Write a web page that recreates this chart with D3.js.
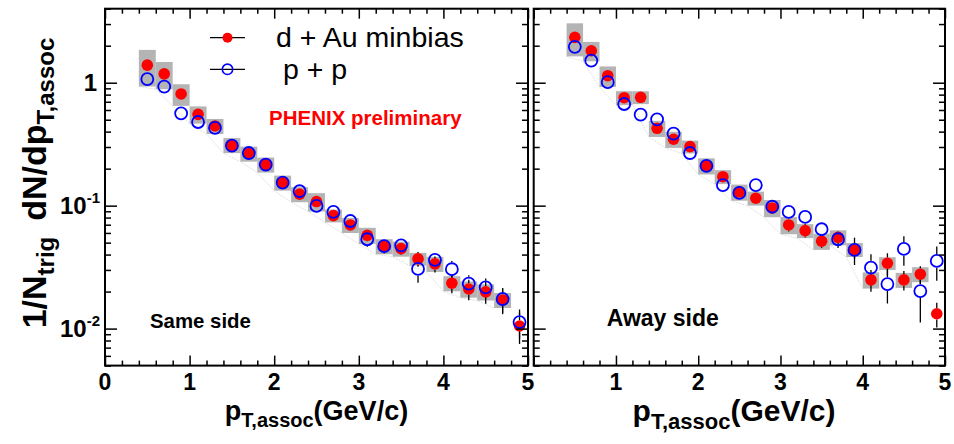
<!DOCTYPE html>
<html>
<head>
<meta charset="utf-8">
<script src="https://cdn.jsdelivr.net/npm/d3@7"></script>
<style>
  body { margin: 0; background: #fff; }
  svg { display: block; }
</style>
</head>
<body>
<svg id="chart" width="954" height="444"></svg>
<script>
// Associated-hadron yields per trigger vs pT,assoc (bin centres, GeV/c)
const ptAssoc = [0.5, 0.7, 0.9, 1.1, 1.3, 1.5, 1.7, 1.9, 2.1, 2.3, 2.5, 2.7,
                 2.9, 3.1, 3.3, 3.5, 3.7, 3.9, 4.1, 4.3, 4.5, 4.7, 4.9];

// Same side
const sameDAu = [1.39, 1.18, 0.81, 0.553, 0.445, 0.311, 0.265, 0.216, 0.154, 0.124, 0.108, 0.083,
                 0.0697, 0.0574, 0.0468, 0.0447, 0.0369, 0.0336, 0.0234, 0.021, 0.0199, 0.0171, 0.0105];
const samePP  = [1.07, 0.93, 0.564, 0.479, 0.43, 0.308, 0.268, 0.216, 0.154, 0.131, 0.0995, 0.0889,
                 0.075, 0.0533, 0.0468, 0.0476, 0.0306, 0.0362, 0.0304, 0.0232, 0.0216, 0.0174, 0.0113];
const sameDAuStat = [0.03, 0.025, 0.016, 0.011, 0.009, 0.006, 0.005, 0.004, 0.003, 0.003, 0.003, 0.003,
                     0.003, 0.006, 0.005, 0.005, 0.005, 0.005, 0.004, 0.004, 0.004, 0.004, 0.003];
const samePPStat  = [0.03, 0.025, 0.016, 0.012, 0.01, 0.007, 0.006, 0.005, 0.004, 0.004, 0.004, 0.004,
                     0.004, 0.007, 0.006, 0.006, 0.007, 0.005, 0.005, 0.004, 0.004, 0.004, 0.003];
// relative systematic uncertainty of d+Au (grey boxes)
const sameDAuSys = [0.33, 0.25, 0.2, 0.16, 0.14, 0.14, 0.14, 0.14, 0.14, 0.14, 0.17, 0.12,
                    0.14, 0.15, 0.14, 0.14, 0.12, 0.14, 0.14, 0.15, 0.15, 0.14, 0];

// Away side
const awayDAu = [2.34, 1.82, 1.14, 0.755, 0.761, 0.426, 0.347, 0.302, 0.211, 0.172, 0.129, 0.115,
                 0.0958, 0.0697, 0.0626, 0.0514, 0.0553, 0.0439, 0.0249, 0.034, 0.0249, 0.0277, 0.0132];
const awayPP  = [1.96, 1.51, 1.01, 0.671, 0.55, 0.504, 0.385, 0.268, 0.211, 0.147, 0.127, 0.147,
                 0.098, 0.0889, 0.081, 0.0643, 0.0533, 0.0436, 0.0313, 0.023, 0.0445, 0.0202, 0.0355];
const awayDAuStat = [0.08, 0.06, 0.04, 0.025, 0.025, 0.015, 0.012, 0.01, 0.008, 0.007, 0.006, 0.009,
                     0.008, 0.008, 0.0075, 0.006, 0.0066, 0.011, 0.005, 0.007, 0.0045, 0.0045, 0.003];
const awayPPStat  = [0.24, 0.1, 0.06, 0.035, 0.03, 0.025, 0.02, 0.015, 0.011, 0.009, 0.008, 0.012,
                     0.008, 0.009, 0.011, 0.009, 0.008, 0.0065, 0.009, 0.007, 0.012, 0.009, 0.011];
const awayDAuSys = [0.3, 0.18, 0.19, 0.13, 0.12, 0.15, 0.15, 0.12, 0.15, 0.13, 0.15, 0.13,
                    0.16, 0.16, 0.13, 0.15, 0.14, 0.13, 0.15, 0.12, 0.14, 0.14, 0];

// Axis ticks and labels
const xMajorTicks = [0, 1, 2, 3, 4, 5];
const yMajorTicks = [0.01, 0.1, 1];
const yTickLabels = [["10", "-2"], ["10", "-1"], ["1", ""]];
const legendLabels = ["d + Au minbias", "p + p"];
const panelLabels = ["Same side", "Away side"];
const prelimLabel = "PHENIX preliminary";

const FONT = "'Liberation Sans', Arial, Helvetica, sans-serif";
const RED = "#ff0000", BLUE = "#0000ff", GREY = "#b4b4b4";

const svg = d3.select("#chart");
const y = d3.scaleLog().domain([0.005, 4]).range([365.6, 8.7]);
const [yBottom, yTop] = y.range();

const isDecade = v => Math.abs(Math.log10(v) - Math.round(Math.log10(v))) < 1e-6;
const yMinorTicks = y.ticks().filter(v => !isDecade(v));

function drawPanel(p) {
  const x = d3.scaleLinear().domain([0, 5]).range(p.xRange);
  const [xL, xR] = p.xRange;
  const g = svg.append("g");
  const idx = ptAssoc.map((_, i) => i);
  const withSys = idx.filter(i => p.sys[i] > 0);

  // faint lower edge of the systematic band
  g.append("path")
    .attr("d", d3.line()
      .x(i => x(ptAssoc[i] - 0.1))
      .y(i => y(p.dAu[i] * (1 - p.sys[i])))(withSys))
    .attr("fill", "none").attr("stroke", "#d2d2d2")
    .attr("stroke-width", 0.7).attr("stroke-dasharray", "2,1");

  // systematic boxes
  g.selectAll("rect.sys").data(withSys).join("rect")
    .attr("class", "sys")
    .attr("x", i => x(ptAssoc[i] - 0.1))
    .attr("width", i => x(ptAssoc[i] + 0.1) - x(ptAssoc[i] - 0.1))
    .attr("y", i => y(p.dAu[i] * (1 + p.sys[i])))
    .attr("height", i => y(p.dAu[i] * (1 - p.sys[i])) - y(p.dAu[i] * (1 + p.sys[i])))
    .attr("fill", GREY);

  // statistical error bars, kept outside the marker
  function errSegments(vals, errs, r) {
    const segs = [];
    idx.forEach(i => {
      const cx = x(ptAssoc[i]), cy = y(vals[i]);
      const top = y(vals[i] + errs[i]);
      const lo = vals[i] - errs[i];
      const bot = lo > 0 ? Math.min(y(lo), yBottom) : yBottom;
      if (cy - r > top) segs.push([cx, top, cx, cy - r]);
      if (bot > cy + r) segs.push([cx, cy + r, cx, bot]);
    });
    return segs;
  }
  const segs = errSegments(p.dAu, p.dAuStat, 5.8).concat(errSegments(p.pp, p.ppStat, 6.8));
  g.selectAll("line.err").data(segs).join("line")
    .attr("x1", d => d[0]).attr("y1", d => d[1])
    .attr("x2", d => d[2]).attr("y2", d => d[3])
    .attr("stroke", "#000").attr("stroke-width", 1.3);

  // d+Au: filled red circles
  g.selectAll("circle.dau").data(idx).join("circle")
    .attr("cx", i => x(ptAssoc[i])).attr("cy", i => y(p.dAu[i]))
    .attr("r", 5.8).attr("fill", RED);

  // p+p: open blue circles
  g.selectAll("circle.pp").data(idx).join("circle")
    .attr("cx", i => x(ptAssoc[i])).attr("cy", i => y(p.pp[i]))
    .attr("r", 6).attr("fill", "none").attr("stroke", BLUE).attr("stroke-width", 1.8);

  // ticks on all four sides, pointing inward
  const xMinor = x.ticks(25).filter(v => Math.abs(v - Math.round(v)) > 1e-6);
  const tickStyle = sel => {
    sel.select(".domain").remove();
    sel.selectAll("line").attr("stroke", "#000").attr("stroke-width", 1.5);
    sel.selectAll("text").remove();
  };
  const ax = svg.append("g");
  ax.append("g").attr("transform", `translate(0,${yBottom})`)
    .call(d3.axisBottom(x).tickValues(xMajorTicks).tickSize(-10)).call(tickStyle);
  ax.append("g").attr("transform", `translate(0,${yBottom})`)
    .call(d3.axisBottom(x).tickValues(xMinor).tickSize(-5)).call(tickStyle);
  ax.append("g").attr("transform", `translate(0,${yTop})`)
    .call(d3.axisTop(x).tickValues(xMajorTicks).tickSize(-10)).call(tickStyle);
  ax.append("g").attr("transform", `translate(0,${yTop})`)
    .call(d3.axisTop(x).tickValues(xMinor).tickSize(-5)).call(tickStyle);
  ax.append("g").attr("transform", `translate(${xL},0)`)
    .call(d3.axisLeft(y).tickValues(yMajorTicks).tickSize(-12)).call(tickStyle);
  ax.append("g").attr("transform", `translate(${xL},0)`)
    .call(d3.axisLeft(y).tickValues(yMinorTicks).tickSize(-6)).call(tickStyle);
  ax.append("g").attr("transform", `translate(${xR},0)`)
    .call(d3.axisRight(y).tickValues(yMajorTicks).tickSize(-12)).call(tickStyle);
  ax.append("g").attr("transform", `translate(${xR},0)`)
    .call(d3.axisRight(y).tickValues(yMinorTicks).tickSize(-6)).call(tickStyle);

  // frame
  svg.append("rect")
    .attr("x", xL).attr("y", yTop).attr("width", xR - xL).attr("height", yBottom - yTop)
    .attr("fill", "none").attr("stroke", "#000").attr("stroke-width", 2);

  // x tick labels
  svg.append("g").selectAll("text").data(p.xLabels).join("text")
    .attr("x", d => x(d)).attr("y", p.xLabelY)
    .attr("text-anchor", "middle").attr("font-family", FONT)
    .attr("font-weight", "bold").attr("font-size", 23)
    .text(d => d);

  // x title
  const xt = svg.append("text")
    .attr("x", p.titleX).attr("y", p.titleY).attr("text-anchor", "middle")
    .attr("font-family", FONT).attr("font-weight", "bold").attr("font-size", p.titleSize);
  xt.append("tspan").text("p");
  xt.append("tspan").attr("font-size", p.titleSub).attr("dy", p.titleSub * 0.36).text("T,assoc");
  xt.append("tspan").attr("dy", -p.titleSub * 0.36).text("(GeV/c)");

  // panel label
  svg.append("text")
    .attr("x", p.labelX).attr("y", p.labelY)
    .attr("font-family", FONT).attr("font-weight", "bold").attr("font-size", p.labelSize)
    .text(p.label);

  return x;
}

drawPanel({
  xRange: [105, 528], dAu: sameDAu, pp: samePP, dAuStat: sameDAuStat, ppStat: samePPStat,
  sys: sameDAuSys, xLabels: xMajorTicks, xLabelY: 389.5,
  titleX: 316.5, titleY: 420, titleSize: 27, titleSub: 20,
  label: panelLabels[0], labelX: 150, labelY: 327.7, labelSize: 20.4
});
drawPanel({
  xRange: [533.7, 945], dAu: awayDAu, pp: awayPP, dAuStat: awayDAuStat, ppStat: awayPPStat,
  sys: awayDAuSys, xLabels: xMajorTicks.slice(1), xLabelY: 390,
  titleX: 734, titleY: 421, titleSize: 30, titleSub: 22,
  label: panelLabels[1], labelX: 606.7, labelY: 326, labelSize: 23
});

// y tick labels (left panel only)
const yl = svg.append("g").selectAll("text").data(yMajorTicks).join("text")
  .attr("x", 100).attr("y", d => y(d) + 8.5)
  .attr("text-anchor", "end").attr("font-family", FONT)
  .attr("font-weight", "bold").attr("font-size", 24);
yl.each(function (d, i) {
  const t = d3.select(this);
  const [base, exp] = yTickLabels[i];
  if (exp) {
    t.append("tspan").text(base);
    t.append("tspan").attr("font-size", 15).attr("dy", -11).text(exp);
  } else {
    t.attr("x", 97).text(base);
  }
});

// y title
const ytitle = svg.append("text")
  .attr("transform", "translate(46,183) rotate(-90)")
  .attr("text-anchor", "middle").attr("font-family", FONT)
  .attr("font-weight", "bold").attr("font-size", 34);
ytitle.append("tspan").text("1/N");
ytitle.append("tspan").attr("font-size", 24).attr("dy", 8).text("trig");
ytitle.append("tspan").attr("dy", -8).attr("dx", 16).text("dN/dp");
ytitle.append("tspan").attr("font-size", 24).attr("dy", 8).text("T,assoc");

// legend
const legend = svg.append("g");
const legRows = [
  { y: 37.7, tx: 276, ty: 47, kind: "dau" },
  { y: 69.3, tx: 283, ty: 78.5, kind: "pp" }
];
legRows.forEach((r, i) => {
  legend.append("line").attr("x1", 210).attr("x2", 245).attr("y1", r.y).attr("y2", r.y)
    .attr("stroke", "#000").attr("stroke-width", 1.3);
  if (r.kind === "dau") {
    legend.append("circle").attr("cx", 227.5).attr("cy", r.y).attr("r", 5).attr("fill", RED);
  } else {
    legend.append("circle").attr("cx", 227.5).attr("cy", r.y).attr("r", 5.2)
      .attr("fill", "none").attr("stroke", BLUE).attr("stroke-width", 1.6);
  }
  legend.append("text").attr("x", r.tx).attr("y", r.ty)
    .attr("font-family", FONT).attr("font-size", 28.5).text(legendLabels[i]);
});

// preliminary tag
svg.append("text").attr("x", 269).attr("y", 124.5)
  .attr("font-family", FONT).attr("font-weight", "bold").attr("font-size", 20.5)
  .attr("fill", RED).text(prelimLabel);
</script>
</body>
</html>
